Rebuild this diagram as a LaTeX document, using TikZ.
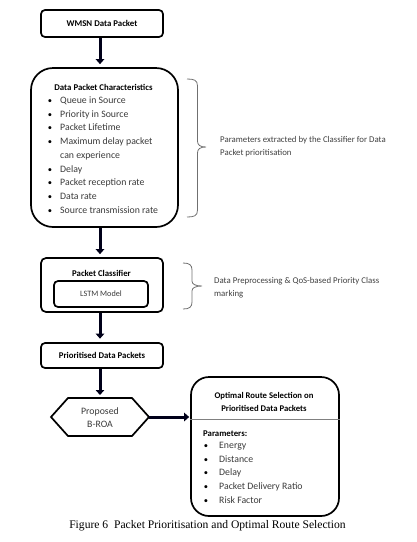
\documentclass[tikz,border=0pt]{standalone}
\usepackage{fontspec}
\setmainfont{Carlito}
\newfontfamily\capfont{Liberation Serif}
\usetikzlibrary{arrows.meta,calc}
\definecolor{txtgray}{HTML}{3A3A3A}
\definecolor{annot}{HTML}{404040}
\definecolor{brgray}{HTML}{707070}
\tikzset{
  box/.style={draw=black, line width=1.7pt, inner sep=0pt},
  ttl/.style={font=\fontsize{8.8}{10}\selectfont\bfseries, text=black, inner sep=0pt},
  itm/.style={font=\fontsize{9.8}{12}\selectfont, text=txtgray, inner sep=0pt, anchor=base west},
  bul/.style={font=\fontsize{8.5}{10}\selectfont, text=black, inner sep=0pt, anchor=base},
  ann/.style={font=\fontsize{8.8}{13.5}\selectfont, text=annot, inner sep=0pt, align=left, anchor=west},
  arr/.style={line width=3pt, -{Triangle[width=8.5pt,length=5pt]}, draw=black!90!blue},
  brc/.style={draw=brgray, line width=0.8pt},
}
\begin{document}
\begin{tikzpicture}[x=1pt,y=-1pt]
\useasboundingbox (0,0) rectangle (417,542);
% boxes
\node[box, rounded corners=4pt, minimum width=122pt, minimum height=27pt, ttl] (wmsn) at (102,23.5) {WMSN Data Packet};
\node[box, rounded corners=22pt, minimum width=147pt, minimum height=159pt] (chars) at (104.5,147.5) {};
\node[ttl] (charsT) at (103.5,87) {Data Packet Characteristics};
% list
\foreach \b/\t [count=\i] in {1/Queue in Source, 1/Priority in Source, 1/Packet Lifetime, 1/Maximum delay packet, 0/can experience, 1/Delay, 1/Packet reception rate, 1/Data rate, 1/Source transmission rate}{
  \node[itm] (ci\i) at (60, {89.5+13.75*\i}) {\t};
  \ifnum\b=1 \node[bul] (cb\i) at (50, {89.5+13.75*\i}) {•}; \fi
}
\node[box, rounded corners=5pt, minimum width=122pt, minimum height=54pt] (cls) at (102,285) {};
\node[ttl] (clsT) at (101.5,273) {Packet Classifier};
\node[box, rounded corners=4pt, minimum width=94pt, minimum height=26pt, font=\fontsize{8.2}{10}\selectfont, text=txtgray] (lstm) at (101,294) {LSTM Model};
\node[box, rounded corners=4pt, minimum width=122pt, minimum height=25pt, ttl] (prio) at (102,355.5) {Prioritised Data Packets};
% hexagon
\node[font=\fontsize{9.8}{13}\selectfont, text=txtgray, align=center, inner sep=0pt] (hex) at (100,417.5) {Proposed\\B-ROA};
\draw[line width=1.7pt, line join=miter] ($(hex)+(-49,-0.5)$) -- ($(hex)+(-32,-19.5)$) -- ($(hex)+(32,-19.5)$) -- ($(hex)+(49,-0.5)$) -- ($(hex)+(32,18.5)$) -- ($(hex)+(-32,18.5)$) -- cycle;
\coordinate (hexR) at ($(hex)+(49,-0.5)$);
% route box
\node[box, rounded corners=18pt, minimum width=148pt, minimum height=139pt] (route) at (265,446.5) {};
\draw[draw=gray, line width=0.9pt] (route.west |- 0,419) -- (route.east |- 0,419);
\node[ttl, align=center, font=\fontsize{8.7}{12.5}\selectfont\bfseries] (routeT) at (264,402) {Optimal Route Selection on\\Prioritised Data Packets};
\node[ttl, anchor=base west] (param) at (203,436) {Parameters:};
\foreach \t [count=\i] in {Energy, Distance, Delay, Packet Delivery Ratio, Risk Factor}{
  \node[itm] (ri\i) at (219, {434.5+13.75*\i}) {\t};
  \node[bul] (rb\i) at (206, {434.5+13.75*\i}) {•};
}
% arrows
\draw[arr] (wmsn.south -| hex) -- ($(chars.north -| hex)+(0,-3)$);
\draw[arr] (chars.south -| hex) -- ($(cls.north -| hex)+(0,-3)$);
\draw[arr] (cls.south -| hex) -- ($(prio.north -| hex)+(0,-3.5)$);
\draw[arr] (prio.south -| hex) -- ($(hex)+(0,-22.5)$);
\draw[arr] (hexR) -- ($(route.west |- hexR)+(-1,0)$);
% braces
\draw[brc] (187,79) .. controls (194,79) and (197.5,80) .. (197.5,86) -- (197.5,141) .. controls (197.5,145) and (200,147) .. (206,147) .. controls (200,147) and (197.5,149) .. (197.5,153) -- (197.5,210) .. controls (197.5,216) and (194,217) .. (187,217);
\draw[brc] (183,263) .. controls (189.5,263) and (192,265) .. (192,270) -- (192,281) .. controls (192,284) and (195,286) .. (202,286) .. controls (195,286) and (192,288) .. (192,291) -- (192,302) .. controls (192,307) and (189.5,309) .. (183,309);
\node[ann] (ann1) at (220,146.5) {Parameters extracted by the Classifier for Data\\Packet prioritisation};
\node[ann, font=\fontsize{8.8}{13}\selectfont] (ann2) at (214,288) {Data Preprocessing \& QoS-based Priority Class\\marking};
% caption
\node[font=\capfont\fontsize{11.6}{13}\selectfont, inner sep=0pt] (cap) at (207.5,526) {Figure 6\ \ Packet Prioritisation and Optimal Route Selection};
\end{tikzpicture}
\end{document}
